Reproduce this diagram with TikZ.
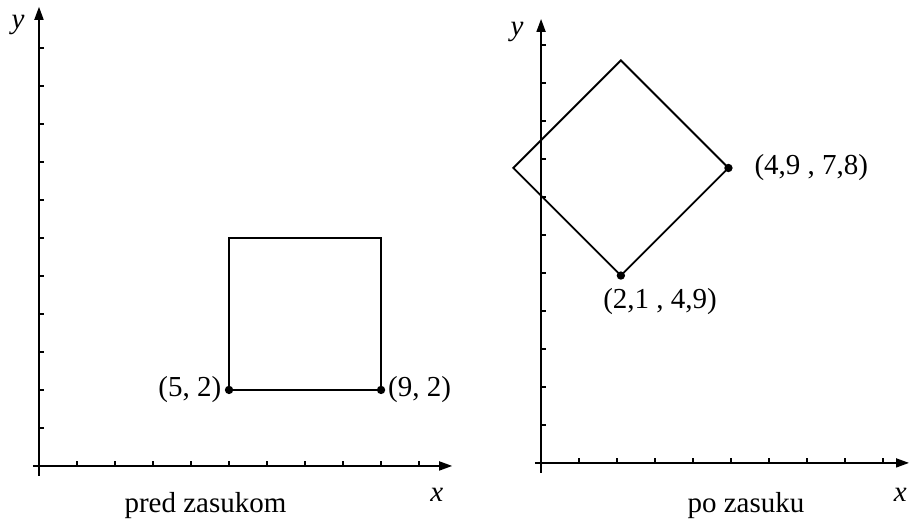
\documentclass[tikz,border=0pt]{standalone}
\usepackage{fontspec}
\setmainfont{Liberation Serif}
\usetikzlibrary{arrows.meta,positioning}

\begin{document}
\begin{tikzpicture}[
		font=\fontsize{21.7}{26}\selectfont,
		axisline/.style={-{Triangle[length=3.4mm,width=2.4mm]},line width=1pt},
		tickmark/.style={line width=1pt},
		sq/.style={line width=1.6pt,line join=miter},
		rot/.style={line width=1.4pt,line join=miter},
		lbl/.style={inner sep=0pt}]
	\useasboundingbox (-1.026,-1.395) rectangle (22.97,12.26);
	% pred zasukom
	\coordinate (O1) at (0,0);
	\coordinate (X1) at (10.87,0);
	\coordinate (Y1) at (0,12.08);
	\draw[axisline] (-0.16,0) -- (X1);
	\draw[axisline] (0,-0.26) -- (Y1);
	\foreach \i in {1,...,10} \draw[tickmark] (\i,0) -- (\i,0.13);
	\foreach \i in {1,...,11} \draw[tickmark] (0,\i) -- (0.13,\i);
	\node (xl1) at (10.47,-0.76) {\textit{x}};
	\node (yl1) at (-0.55,11.6) {\textit{y}};
	\coordinate (A) at (5,2);
	\coordinate (B) at (9,2);
	\coordinate (C) at (9,6);
	\coordinate (D) at (5,6);
	\draw[sq] (A) -- (B) -- (C) -- (D) -- cycle;
	\fill (A) circle (0.11) (B) circle (0.11);
	\node[lbl,left=0.2 of A] (lA) {(5, 2)};
	\node[lbl,right=0.18 of B] (lB) {(9, 2)};
	\node (t1) at (4.38,-1.03) {pred zasukom};
	% po zasuku
	\begin{scope}[shift={(13.21,0.08)}]
		\coordinate (O2) at (0,0);
		\coordinate (X2) at (9.68,0);
		\coordinate (Y2) at (0,11.68);
		\draw[axisline] (-0.16,0) -- (X2);
		\draw[axisline] (0,-0.26) -- (Y2);
		\foreach \i in {1,...,9} \draw[tickmark] (\i,0) -- (\i,0.13);
		\foreach \i in {1,...,11} \draw[tickmark] (0,\i) -- (0.13,\i);
		\node (xl2) at (9.45,-0.84) {\textit{x}};
		\node (yl2) at (-0.63,11.34) {\textit{y}};
		\coordinate (Q) at (2.1,4.93);
		\coordinate (P) at (4.93,7.76);
		\coordinate (T) at (2.1,10.59);
		\coordinate (L) at (-0.73,7.76);
		\draw[rot] (Q) -- (P) -- (T) -- (L) -- cycle;
		\fill (Q) circle (0.11) (P) circle (0.11);
		\node[lbl,right=0.68 of P] (lP) {(4,9 , 7,8)};
		\node[lbl,below=0.32 of Q,xshift=1.03cm] (lQ) {(2,1 , 4,9)};
		\node (t2) at (5.39,-1.11) {po zasuku};
	\end{scope}
\end{tikzpicture}
\end{document}
